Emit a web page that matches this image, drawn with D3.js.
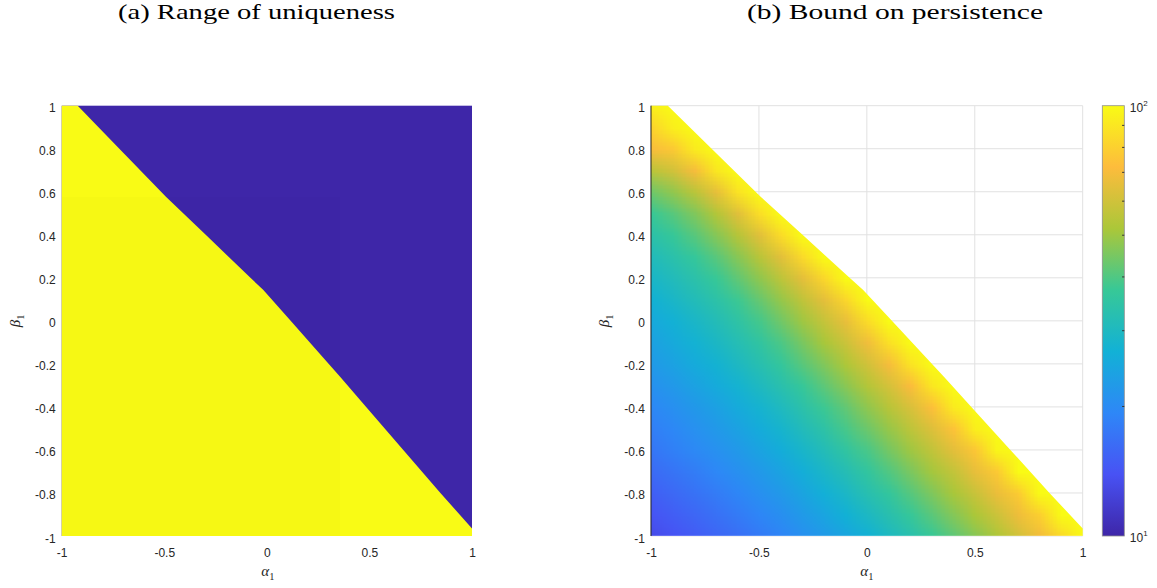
<!DOCTYPE html>
<html>
<head>
<meta charset="utf-8">
<script src="https://cdn.jsdelivr.net/npm/d3@7"></script>
<style>
  body { margin: 0; background: #fff; }
  svg { display: block; }
</style>
</head>
<body>
<div id="chart"></div>
<script>
var svgWidth = 1157;
var svgHeight = 588;

// grid nodes of the persistence map
var alphaNodes = [-1, -0.9, -0.8, -0.7, -0.6, -0.5, -0.4, -0.3, -0.2, -0.1, 0,
  0.1, 0.2, 0.3, 0.4, 0.5, 0.6, 0.7, 0.8, 0.9, 1];
var betaNodes = [-1, -0.9, -0.8, -0.7, -0.6, -0.5, -0.4, -0.3, -0.2, -0.1, 0,
  0.1, 0.2, 0.3, 0.4, 0.5, 0.6, 0.7, 0.8, 0.9, 1];

// bound on persistence, one row per beta node (from -1 up), values from alpha = -1;
// a row stops where the region of uniqueness ends (values above 100 saturate)
var persistenceRows = [
  [13.2, 14.0, 14.8, 15.7, 16.6, 17.8, 19.1, 20.7, 22.4, 24.5, 26.9, 29.9, 33.1, 37.2, 41.7, 46.8, 52.5, 60.3, 69.2, 84.0, 110],
  [14.1, 15.0, 15.8, 16.8, 17.9, 19.2, 20.6, 22.4, 24.4, 26.9, 29.7, 33.0, 36.8, 41.3, 46.5, 52.1, 59.0, 68.1, 80.0, 110],
  [15.1, 16.0, 17.0, 18.0, 19.2, 20.7, 22.3, 24.2, 26.6, 29.2, 32.7, 36.1, 40.7, 45.7, 51.5, 58.2, 67.0, 78.0, 105],
  [16.2, 17.2, 18.2, 19.4, 20.7, 22.2, 24.1, 26.3, 29.0, 32.0, 35.8, 40.1, 45.2, 50.9, 57.1, 66.1, 77.0, 100],
  [17.4, 18.5, 19.6, 20.8, 22.3, 24.0, 26.1, 28.6, 31.6, 35.4, 39.2, 44.5, 50.1, 56.5, 64.9, 76.0, 97.0],
  [18.4, 19.5, 20.8, 22.2, 23.8, 25.8, 28.1, 31.1, 34.4, 39.0, 43.5, 49.0, 55.6, 63.4, 74.5, 94.0],
  [19.5, 20.7, 22.1, 23.6, 25.5, 27.7, 30.3, 33.7, 37.8, 42.2, 48.0, 54.6, 62.1, 73.0, 92.0],
  [20.9, 22.2, 23.8, 25.5, 27.5, 30.1, 33.3, 36.9, 41.6, 47.2, 53.6, 61.0, 71.5, 90.0],
  [22.4, 23.9, 25.5, 27.4, 29.8, 32.7, 36.4, 40.9, 46.0, 52.5, 60.0, 70.0, 88.0, 120],
  [23.7, 25.4, 27.2, 29.4, 32.1, 35.4, 39.6, 45.0, 51.4, 59.0, 68.5, 87.0, 120],
  [25.1, 27.0, 29.0, 31.5, 34.6, 38.7, 43.9, 50.1, 57.5, 66.4, 85.0, 118],
  [26.9, 29.0, 31.3, 34.1, 37.8, 42.7, 48.8, 56.4, 65.3, 83.0, 115],
  [28.8, 31.1, 33.8, 37.2, 42.0, 47.9, 55.6, 65.0, 83.0, 115],
  [30.9, 33.5, 36.7, 41.0, 46.9, 54.7, 64.6, 84.0, 118],
  [33.9, 37.0, 40.9, 46.6, 54.2, 64.4, 85.0, 120],
  [37.2, 40.9, 45.9, 53.5, 64.1, 86.0],
  [43.7, 48.2, 55.0, 66.0, 88.0],
  [55.0, 60.4, 70.0, 90.0],
  [70.8, 77.0, 92.0],
  [81.3, 94.0],
  [95.0]
];

// edge of the range of uniqueness (upper right of it is not unique)
var boundaryAlpha = [-0.922, -0.719, -0.492, -0.298, -0.080, -0.017, 0.116, 0.302, 0.357, 0.484, 0.665, 0.846, 1.0];
var boundaryBeta = [1.0, 0.8, 0.577, 0.4, 0.2, 0.143, 0.0, -0.2, -0.26, -0.4, -0.6, -0.8, -0.965];

var xTicks = [-1, -0.5, 0, 0.5, 1];
var xTickLabels = ["-1", "-0.5", "0", "0.5", "1"];
var yTicks = [-1, -0.8, -0.6, -0.4, -0.2, 0, 0.2, 0.4, 0.6, 0.8, 1];
var yTickLabels = ["-1", "-0.8", "-0.6", "-0.4", "-0.2", "0", "0.2", "0.4", "0.6", "0.8", "1"];

var cbarMajor = [10, 100];
var cbarExponents = ["1", "2"];
var cbarMinor = [20, 30, 40, 50, 60, 70, 80, 90];

// parula
var parulaStops = [0, 1 / 7, 2 / 7, 3 / 7, 4 / 7, 5 / 7, 6 / 7, 1];
var parulaColors = ["#3e26a8", "#4852f4", "#2e87f7", "#12b1d6", "#37c897", "#abc739", "#fdbc3c", "#f9fb15"];
var notUniqueColor = "#3e26a8";
var uniqueColor = "#f9fb15";

var titles = ["(a) Range of uniqueness", "(b) Bound on persistence"];

var panelA = { left: 61.7, right: 472, top: 105.7, bottom: 536 };
var panelB = { left: 651, right: 1082.7, top: 105.7, bottom: 536 };
var cbar = { left: 1102.3, right: 1124.3, top: 105.7, bottom: 536 };

var svg = d3.select("#chart")
  .append("svg")
  .attr("width", svgWidth)
  .attr("height", svgHeight);

var defs = svg.append("defs");

function regionPath(x, y) {
  var pts = [[-1, -1], [-1, 1]];
  boundaryAlpha.forEach(function(a, i) { pts.push([a, boundaryBeta[i]]); });
  pts.push([1, -1]);
  return d3.line().x(d => x(d[0])).y(d => y(d[1]))(pts) + "Z";
}

function drawAxes(p, x, y, labelX) {
  var bottomAxis = d3.axisBottom(x)
    .tickValues(xTicks)
    .tickFormat((d, i) => xTickLabels[i])
    .tickSize(0)
    .tickPadding(12.2);
  var leftAxis = d3.axisLeft(y)
    .tickValues(yTicks)
    .tickFormat((d, i) => yTickLabels[i])
    .tickSize(0)
    .tickPadding(6);

  var xg = svg.append("g")
    .attr("transform", `translate(0, ${p.bottom})`)
    .call(bottomAxis);
  var yg = svg.append("g")
    .attr("transform", `translate(${p.left}, 0)`)
    .call(leftAxis);

  [xg, yg].forEach(function(g) {
    g.select(".domain").remove();
    g.attr("font-family", "'Liberation Sans', Arial, sans-serif")
      .attr("font-size", 12);
    g.selectAll("text").attr("fill", "#262626");
  });
  yg.selectAll("text").attr("dy", "0.5em");

  // axis labels
  var ax = svg.append("text")
    .attr("x", labelX)
    .attr("y", 576)
    .attr("text-anchor", "middle")
    .attr("fill", "#262626")
    .attr("font-family", "'Liberation Serif', serif");
  ax.append("tspan").attr("font-style", "italic").attr("font-size", 15).text("α");
  ax.append("tspan").attr("font-size", 10.5).attr("dy", 4).text("1");

  var ay = svg.append("text")
    .attr("transform", `translate(${p.left - 42}, ${(p.top + p.bottom) / 2}) rotate(-90)`)
    .attr("text-anchor", "middle")
    .attr("fill", "#262626")
    .attr("font-family", "'Liberation Serif', serif");
  ay.append("tspan").attr("font-style", "italic").attr("font-size", 15).text("β");
  ay.append("tspan").attr("font-size", 10.5).attr("dy", 4).text("1");
}

// ---------- (a) range of uniqueness ----------
var xA = d3.scaleLinear().domain([-1, 1]).range([panelA.left, panelA.right]);
var yA = d3.scaleLinear().domain([-1, 1]).range([panelA.bottom, panelA.top]);

svg.append("rect")
  .attr("x", xA(-1))
  .attr("y", yA(1))
  .attr("width", xA(1) - xA(-1))
  .attr("height", yA(-1) - yA(1))
  .attr("fill", notUniqueColor);

svg.append("path")
  .attr("d", regionPath(xA, yA))
  .attr("fill", uniqueColor);

// faint tile seam of the exported image
svg.append("rect")
  .attr("x", xA(-1))
  .attr("y", yA(0.577))
  .attr("width", xA(0.357) - xA(-1))
  .attr("height", yA(-1) - yA(0.577))
  .attr("fill", "#000")
  .attr("opacity", 0.012);

drawAxes(panelA, xA, yA, (panelA.left + panelA.right) / 2 + 1);

// ---------- (b) bound on persistence ----------
var xB = d3.scaleLinear().domain([-1, 1]).range([panelB.left, panelB.right]);
var yB = d3.scaleLinear().domain([-1, 1]).range([panelB.bottom, panelB.top]);

var logScale = d3.scaleLog().domain([10, 100]).range([0, 1]).clamp(true);
var parula = d3.scaleLinear()
  .domain(parulaStops)
  .range(parulaColors)
  .interpolate(d3.interpolateRgb)
  .clamp(true);
function colorOf(v) { return parula(logScale(v == null ? 100 : v)); }

// grid
var grid = svg.append("g")
  .attr("stroke", "#e1e1e1")
  .attr("stroke-width", 1);
xTicks.forEach(function(t) {
  grid.append("line")
    .attr("x1", xB(t)).attr("x2", xB(t))
    .attr("y1", yB(-1)).attr("y2", yB(1));
});
yTicks.forEach(function(t) {
  grid.append("line")
    .attr("x1", xB(-1)).attr("x2", xB(1))
    .attr("y1", yB(t)).attr("y2", yB(t));
});

// heat map: one pixel per grid node, smoothed by the browser when scaled
var canvas = document.createElement("canvas");
canvas.width = alphaNodes.length;
canvas.height = betaNodes.length;
var ctx = canvas.getContext("2d");
betaNodes.forEach(function(b, k) {
  var row = persistenceRows[k];
  var j = betaNodes.length - 1 - k;
  alphaNodes.forEach(function(a, i) {
    ctx.fillStyle = colorOf(i < row.length ? row[i] : null);
    ctx.fillRect(i, j, 1, 1);
  });
});

var halfA = (alphaNodes[1] - alphaNodes[0]) / 2;
var halfB = (betaNodes[1] - betaNodes[0]) / 2;

defs.append("clipPath")
  .attr("id", "regionB")
  .append("path")
  .attr("d", regionPath(xB, yB));

svg.append("image")
  .attr("href", canvas.toDataURL())
  .attr("x", xB(alphaNodes[0] - halfA))
  .attr("y", yB(betaNodes[betaNodes.length - 1] + halfB))
  .attr("width", xB(alphaNodes[alphaNodes.length - 1] + halfA) - xB(alphaNodes[0] - halfA))
  .attr("height", yB(betaNodes[0] - halfB) - yB(betaNodes[betaNodes.length - 1] + halfB))
  .attr("preserveAspectRatio", "none")
  .attr("clip-path", "url(#regionB)");

// bottom edge and y axis line
svg.append("line")
  .attr("x1", xB(-1)).attr("x2", xB(1))
  .attr("y1", yB(-1)).attr("y2", yB(-1))
  .attr("stroke", "#fff")
  .attr("stroke-opacity", 0.35);
svg.append("line")
  .attr("x1", xB(-1)).attr("x2", xB(-1))
  .attr("y1", yB(-1)).attr("y2", yB(1))
  .attr("stroke", "#262626")
  .attr("stroke-width", 1);

drawAxes(panelB, xB, yB, (panelB.left + panelB.right) / 2);

// ---------- colour bar ----------
var grad = defs.append("linearGradient")
  .attr("id", "parulaGrad")
  .attr("x1", 0).attr("y1", 1)
  .attr("x2", 0).attr("y2", 0);
parulaStops.forEach(function(s, i) {
  grad.append("stop").attr("offset", s).attr("stop-color", parulaColors[i]);
});

var yC = d3.scaleLog().domain([10, 100]).range([cbar.bottom, cbar.top]);

svg.append("rect")
  .attr("x", cbar.left)
  .attr("y", cbar.top)
  .attr("width", cbar.right - cbar.left)
  .attr("height", cbar.bottom - cbar.top)
  .attr("fill", "url(#parulaGrad)")
  .attr("stroke", "#8f8f8f")
  .attr("stroke-width", 0.8);

svg.append("g")
  .selectAll("line")
  .data(cbarMinor)
  .enter()
  .append("line")
  .attr("x1", cbar.right - 2.2)
  .attr("x2", cbar.right)
  .attr("y1", d => yC(d))
  .attr("y2", d => yC(d))
  .attr("stroke", "#333")
  .attr("stroke-width", 1);

cbarMajor.forEach(function(v, i) {
  var t = svg.append("text")
    .attr("x", cbar.right + 5.5)
    .attr("y", yC(v) + 6)
    .attr("fill", "#262626")
    .attr("font-family", "'Liberation Sans', Arial, sans-serif")
    .attr("font-size", 12);
  t.append("tspan").text("10");
  t.append("tspan").attr("font-size", 8).attr("dy", -6).text(cbarExponents[i]);
});

// ---------- titles ----------
var titleX = [256.5, 895];
var titleW = [277, 296];
titles.forEach(function(s, i) {
  svg.append("text")
    .attr("x", titleX[i])
    .attr("y", 19)
    .attr("text-anchor", "middle")
    .attr("font-family", "'Liberation Serif', 'Times New Roman', serif")
    .attr("font-size", 21)
    .attr("fill", "#000")
    .attr("textLength", titleW[i])
    .attr("lengthAdjust", "spacingAndGlyphs")
    .text(s);
});
</script>
</body>
</html>
